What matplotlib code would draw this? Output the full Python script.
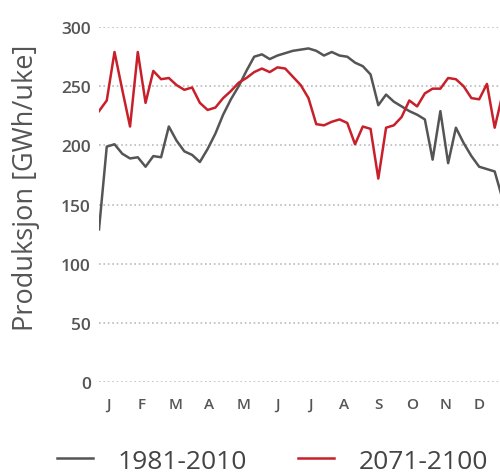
import numpy as np
import matplotlib.pyplot as plt

plt.rcParams['font.family'] = ['Open Sans', 'DejaVu Sans']

weeks = np.arange(1, 54)
months = ['J', 'F', 'M', 'A', 'M', 'J', 'J', 'A', 'S', 'O', 'N', 'D']

# weekly production, GWh per week
prod_1981_2010 = [129, 199, 201, 193, 189, 190, 182, 191, 190, 216,
                  204, 195, 192, 186, 197, 210, 226, 239, 250, 263,
                  275, 277, 273, 276, 278, 280, 281, 282, 280, 276,
                  279, 276, 275, 270, 267, 260, 234, 243, 237, 233,
                  229, 226, 222, 188, 229, 185, 215, 202, 191, 182,
                  180, 178, 155]
prod_2071_2100 = [229, 238, 279, 247, 216, 279, 236, 263, 256, 257,
                  251, 247, 249, 236, 230, 232, 240, 246, 253, 257,
                  262, 265, 262, 266, 265, 258, 251, 240, 218, 217,
                  220, 222, 219, 201, 216, 214, 172, 215, 217, 224,
                  238, 233, 244, 248, 248, 257, 256, 250, 240, 239,
                  252, 215, 243]

fig = plt.figure(figsize=(5, 4.77), dpi=100)
ax = fig.add_axes([0.198, 0.197, 0.81, 0.744])

ax.plot(weeks, prod_1981_2010, color='#555555', linewidth=1.8, label='1981-2010')
ax.plot(weeks, prod_2071_2100, color='#c8202a', linewidth=1.8, label='2071-2100')

ax.set_xlim(1, 53.2)
ax.set_ylim(0, 300)
ax.set_yticks(range(0, 301, 50))
ax.set_xticks([2.2 + 4.35 * k for k in range(12)])
ax.set_xticklabels(months)

ax.grid(axis='y', linestyle=':', color='#bbbbbb', linewidth=1.2)
ax.set_axisbelow(True)
for s in ax.spines.values():
    s.set_visible(False)
ax.tick_params(length=0, colors='#555555', labelsize=12.5, pad=6)
ax.tick_params(axis='x', pad=11, labelsize=11)
for lbl in ax.get_xticklabels() + ax.get_yticklabels():
    lbl.set_fontweight('semibold')
ax.set_ylabel('Produksjon [GWh/uke]', fontsize=19.5, color='#555555')
ax.yaxis.set_label_coords(-0.145, 0.55)

fig.legend(loc='lower center', bbox_to_anchor=(0.545, -0.045), ncol=2,
           frameon=False, fontsize=19, handlelength=1.36, handletextpad=0.95,
           columnspacing=1.93, labelcolor='#444444')

fig.savefig('out.png', dpi=100)
